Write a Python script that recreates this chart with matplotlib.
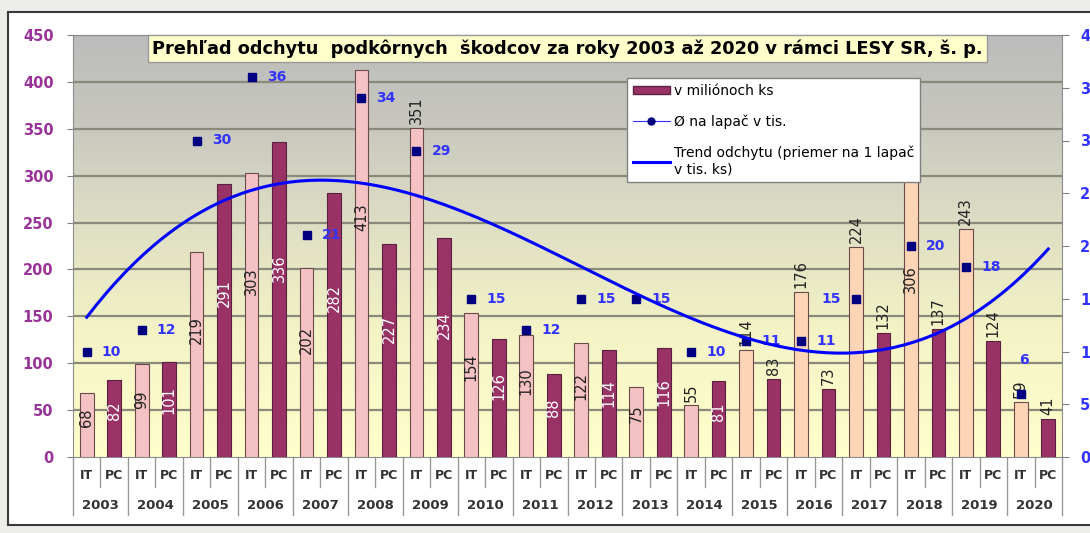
import numpy as np
import matplotlib
matplotlib.use('Agg')
import matplotlib.pyplot as plt
from matplotlib.colors import LinearSegmentedColormap
from matplotlib.lines import Line2D
from matplotlib.patches import Patch, Rectangle
import matplotlib.transforms as mtransforms

# data
years = [2003, 2004, 2005, 2006, 2007, 2008, 2009, 2010, 2011,
         2012, 2013, 2014, 2015, 2016, 2017, 2018, 2019, 2020]
it_values = [68, 99, 219, 303, 202, 413, 351, 154, 130,
             122, 75, 55, 114, 176, 224, 306, 243, 59]
pc_values = [82, 101, 291, 336, 282, 227, 234, 126, 88,
             114, 116, 81, 83, 73, 132, 137, 124, 41]
per_trap = [10, 12, 30, 36, 21, 34, 29, 15, 12,
            15, 15, 10, 11, 11, 15, 20, 18, 6]
left_ticks = [0, 50, 100, 150, 200, 250, 300, 350, 400, 450]
right_ticks = [0, 5, 10, 15, 20, 25, 30, 35, 40]
title = 'Prehľad odchytu  podkôrnych  škodcov za roky 2003 až 2020 v rámci LESY SR, š. p.'
legend_labels = ['v miliónoch ks', 'Ø na lapač v tis.',
                 'Trend odchytu (priemer na 1 lapač\nv tis. ks)']

# labels drawn above the bar instead of inside it
above_it = {2009, 2014, 2015, 2016, 2017, 2019, 2020}
above_pc = {2015, 2016, 2017, 2018, 2019, 2020}
# per-trap labels that sit left of / above the marker
trap_left = {2017}
trap_above = {2020}

plt.rcParams['font.family'] = ['DejaVu Sans']

fig = plt.figure(figsize=(10.9, 5.33), dpi=100, facecolor='#ecece8')
fig.patches.append(Rectangle((8 / 1090, 8 / 533), 1.0, (533 - 20) / 533,
                             transform=fig.transFigure, facecolor='white',
                             edgecolor='#3a3a3a', linewidth=1.5, zorder=-10))

ax = fig.add_axes([73 / 1090, 1 - 457 / 533, (1062 - 73) / 1090, (457 - 35) / 533])
ax.set_xlim(-0.5, 2 * len(years) - 0.5)
ax.set_ylim(0, 450)

# background gradient, grey at the top and pale yellow at the bottom
cmap = LinearSegmentedColormap.from_list('bg', [(0, '#ffffcc'), (0.3, '#f3f3c6'),
                                                (0.6, '#dadac4'), (0.8, '#c6c6be'),
                                                (1, '#bcbcbc')])
grad = np.linspace(0, 1, 256).reshape(-1, 1)
ax.imshow(grad, aspect='auto', cmap=cmap, origin='lower',
          extent=[-0.5, 2 * len(years) - 0.5, 0, 450], zorder=0)
for t in left_ticks[1:]:
    ax.axhline(t, color='#8a8a7c', linewidth=1.6, zorder=1)

x_it = np.arange(len(years)) * 2
x_pc = x_it + 1
it_colors = ['#fbd5b5' if y >= 2015 else '#f4c2c2' for y in years]
ax.bar(x_it, it_values, width=0.5, color=it_colors, edgecolor='#6b4a4a', linewidth=0.8, zorder=3)
ax.bar(x_pc, pc_values, width=0.5, color='#993366', edgecolor='#5a2040', linewidth=0.8, zorder=3)

for i, yr in enumerate(years):
    v = it_values[i]
    if yr in above_it:
        ax.text(x_it[i], v + 4, str(v), rotation=90, ha='center', va='bottom',
                fontsize=10.5, color='#222222', zorder=5)
    else:
        ax.text(x_it[i], v * 0.62, str(v), rotation=90, ha='center', va='center',
                fontsize=10.5, color='#222222', zorder=5)
    v = pc_values[i]
    if yr in above_pc:
        ax.text(x_pc[i], v + 4, str(v), rotation=90, ha='center', va='bottom',
                fontsize=10.5, color='#222222', zorder=5)
    else:
        ax.text(x_pc[i], v * 0.6, str(v), rotation=90, ha='center', va='center',
                fontsize=10.5, color='white', zorder=5)

ax.set_yticks(left_ticks)
ax.tick_params(axis='y', length=4, color='#808080', labelcolor='#993399', pad=10)
for lab in ax.get_yticklabels():
    lab.set_fontweight('bold')
    lab.set_fontsize(10.5)
ax.set_xticks([])
for s in ax.spines.values():
    s.set_color('#8c8c8c')

# two-level category axis
trans = mtransforms.blended_transform_factory(ax.transData, ax.transAxes)
for i, yr in enumerate(years):
    ax.text(x_it[i], -0.045, 'IT', transform=trans, ha='center', va='center',
            fontsize=9, fontweight='bold', color='#333333')
    ax.text(x_pc[i], -0.045, 'PC', transform=trans, ha='center', va='center',
            fontsize=9, fontweight='bold', color='#333333')
    ax.text(x_it[i] + 0.5, -0.115, str(yr), transform=trans, ha='center', va='center',
            fontsize=9.5, fontweight='bold', color='#333333')
    ax.add_line(Line2D([x_it[i] - 0.5] * 2, [0, -0.137], transform=trans,
                       color='#999999', linewidth=1, clip_on=False))
    ax.add_line(Line2D([x_it[i] + 0.5] * 2, [0, -0.07], transform=trans,
                       color='#999999', linewidth=1, clip_on=False))
ax.add_line(Line2D([2 * len(years) - 0.5] * 2, [0, -0.137], transform=trans,
                   color='#999999', linewidth=1, clip_on=False))

# right axis: average per trap and its cubic trend
ax2 = ax.twinx()
ax2.set_ylim(0, 40)
ax2.set_yticks(right_ticks)
ax2.tick_params(axis='y', length=5, color='#808080', labelcolor='#3333ff', pad=8)
for lab in ax2.get_yticklabels():
    lab.set_fontweight('bold')
    lab.set_fontsize(10.5)
for s in ax2.spines.values():
    s.set_visible(False)

ax2.plot(x_it, per_trap, linestyle='none', marker='s', markersize=6,
         color='#000080', zorder=6)
for xi, v, yr in zip(x_it, per_trap, years):
    if yr in trap_left:
        ax2.text(xi - 0.55, v, str(v), ha='right', va='center', fontsize=10,
                 fontweight='bold', color='#3333ff', zorder=6)
    elif yr in trap_above:
        ax2.text(xi + 0.1, v + 3.2, str(v), ha='center', va='center', fontsize=10,
                 fontweight='bold', color='#3333ff', zorder=6)
    else:
        ax2.text(xi + 0.55, v, str(v), ha='left', va='center', fontsize=10,
                 fontweight='bold', color='#3333ff', zorder=6)

coef = np.polyfit(x_it, per_trap, 3)
xs = np.linspace(0, 2 * len(years) - 1, 200)
ax2.plot(xs, np.polyval(coef, xs), color='#0000ff', linewidth=2.2, zorder=7)

# title box
ax.text(0.5, 0.968, title, transform=ax.transAxes,
        ha='center', va='center', fontsize=12.8, fontweight='bold', zorder=10,
        bbox=dict(boxstyle='square,pad=0.25', facecolor='#ffffcc', edgecolor='#999999'))

handles = [Patch(facecolor='#993366', edgecolor='#5a2040'),
           Line2D([], [], color='#3333ff', linewidth=0.8, marker='o', markersize=5,
                  markerfacecolor='#000080', markeredgecolor='#000080'),
           Line2D([], [], color='#0000ff', linewidth=2.2)]
leg = ax2.legend(handles, legend_labels, loc='upper left',
                 bbox_to_anchor=(554 / 989, 1 - 43 / 422),
                 frameon=True, fancybox=False, handlelength=2.7, handleheight=0.5,
                 handletextpad=0.3, labelspacing=1.2, borderpad=0.4, borderaxespad=0,
                 prop={'size': 10})
leg.get_frame().set_edgecolor('#808080')
leg.get_frame().set_linewidth(1)
leg.get_frame().set_alpha(1)
leg.set_zorder(20)

fig.savefig('out.png', dpi=100, facecolor=fig.get_facecolor())
